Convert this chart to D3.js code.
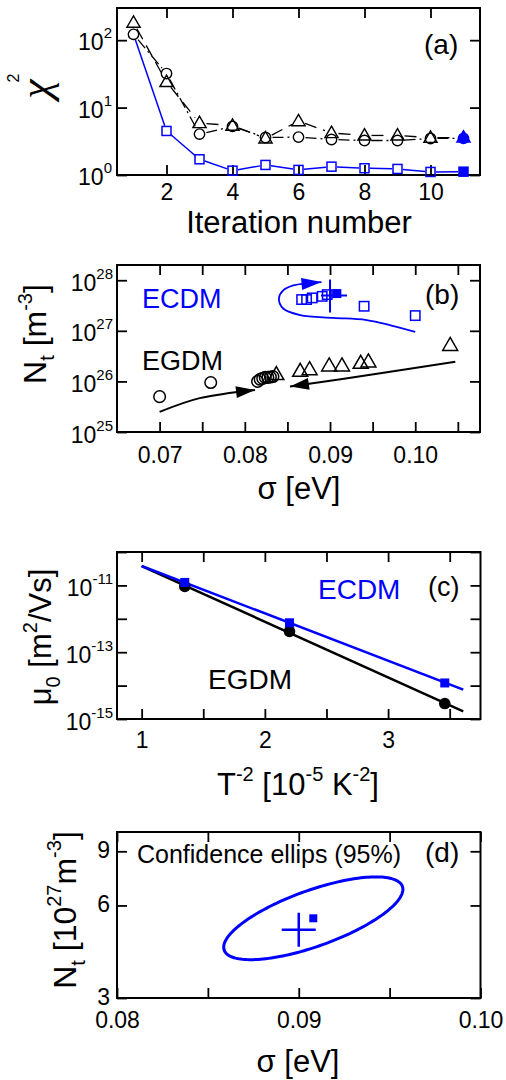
<!DOCTYPE html>
<html>
<head>
<meta charset="utf-8">
<script src="https://cdn.jsdelivr.net/npm/d3@7/dist/d3.min.js"></script>
<style>
  html, body { margin: 0; padding: 0; background: #fff; }
  svg { display: block; font-family: "Liberation Sans", Arial, sans-serif; }
</style>
</head>
<body>
<svg id="fig" width="506" height="1080"></svg>
<script>
// ---------- (a) chi^2 versus iteration ----------
const iterations   = [1, 2, 3, 4, 5, 6, 7, 8, 9, 10, 11];
const chi2ECDM     = [122, 4.5, 1.71, 1.16, 1.41, 1.19, 1.33, 1.26, 1.23, 1.11, 1.12];
const chi2EGDMlow  = [122, 32, 4.04, 5.26, 3.6, 3.65, 3.36, 3.25, 3.25, 3.48, 3.5];
const chi2EGDMhigh = [182, 24, 5.9, 5.4, 3.5, 6.3, 4.2, 3.86, 3.86, 3.57, 3.6];
const xTicksA = [2, 4, 6, 8, 10];
const yTicksA = [1, 10, 100];

// ---------- (b) fit trajectories in (sigma, Nt) ----------
const egdmLowSigma  = [0.0700, 0.0760, 0.0815, 0.0818, 0.0821, 0.0824, 0.0827, 0.0830, 0.0833];
const egdmLowNt     = [5.0e25, 9.5e25, 1.0e26, 1.1e26, 1.15e26, 1.2e26, 1.2e26, 1.22e26, 1.25e26];
const egdmHighSigma = [0.0837, 0.0865, 0.0876, 0.0899, 0.0914, 0.0936, 0.0945, 0.1041];
const egdmHighNt    = [1.38e26, 1.6e26, 1.72e26, 2.05e26, 2.05e26, 2.3e26, 2.45e26, 5.2e26];
const ecdmSigma     = [0.1000, 0.0940, 0.08667, 0.08725, 0.08791, 0.08908, 0.08967];
const ecdmNt        = [2.0e27, 3.06e27, 4.15e27, 4.15e27, 4.47e27, 4.8e27, 5.2e27];
const ecdmBest      = [0.0908, 5.45e27];
const trueParams    = [0.0900, 5.0e27];
const ecdmPathSigma = [0.1000, 0.0943, 0.0904, 0.0865, 0.0845, 0.0840, 0.0845, 0.0857, 0.0890];
const ecdmPathNt    = [9.5e26, 1.63e27, 1.8e27, 2.04e27, 2.76e27, 4.35e27, 6.3e27, 7.9e27, 9.2e27];
const egdmUpSigma   = [0.0700, 0.0747, 0.0812];
const egdmUpNt      = [2.5e25, 4.67e25, 6.8e25];
const egdmDownSigma = [0.1047, 0.0959, 0.0853];
const egdmDownNt    = [2.45e26, 1.45e26, 7.9e25];
const xTicksB = [0.07, 0.075, 0.08, 0.085, 0.09, 0.095, 0.10, 0.105];
const xLabelsB = [0.07, 0.08, 0.09, 0.10];
const yTicksB = [1e25, 1e26, 1e27, 1e28];

// ---------- (c) mu0 versus T^-2 ----------
const invT2    = [1.35, 2.2, 3.46];
const mu0ECDM  = [1.23e-11, 7.6e-13, 1.2e-14];
const mu0EGDM  = [9.3e-12, 4.2e-13, 2.9e-15];
const fitInvT2 = [1.0, 3.61];
const fitECDM  = [3.8e-11, 7.6e-15];
const fitEGDM  = [3.8e-11, 1.7e-15];
const xTicksC  = [1, 1.5, 2, 2.5, 3, 3.5];
const xLabelsC = [1, 2, 3];
const yTicksC  = [1e-15, 1e-14, 1e-13, 1e-12, 1e-11, 1e-10];
const yLabelsC = [1e-15, 1e-13, 1e-11];

// ---------- (d) 95% confidence ellipse ----------
const ellipseHalfSigma = 0.00493;   // half extent along sigma
const ellipseHalfLogNt = 0.1346;    // half extent along log10(Nt)
const ellipsePhase     = 0.796;     // correlation phase (rad)
const xTicksD  = [0.08, 0.085, 0.09, 0.095, 0.10];
const xLabelsD = [0.08, 0.09, 0.10];
const yTicksD  = [3e27, 6e27, 9e27];

const BLUE = "#0000ff";
const svg = d3.select("#fig");
const FONT = '"Liberation Sans", Arial, sans-serif';
const TICK_FS = 23, SUP_FS = 15;

// Frame with inward ticks on all four sides
function axes(x, y, o) {
  const [x0, x1] = x.range();
  const [y0, y1] = y.range();
  const T = 10;
  const tidy = sel => {
    sel.select(".domain").remove();
    sel.selectAll(".tick line").attr("stroke", "#000").attr("stroke-width", 1.8);
    sel.attr("font-family", FONT).attr("font-size", TICK_FS);
  };
  const bottom = svg.append("g").attr("transform", `translate(0,${y0})`)
    .call(d3.axisBottom(x).tickValues(o.xTicks).tickSizeInner(-T).tickSizeOuter(0)
      .tickFormat(d => o.xLabels.includes(d) ? o.xFmt(d) : ""))
    .call(tidy);
  bottom.selectAll("text").attr("dy", null).attr("y", o.xOff).attr("fill", "#000").attr("font-size", TICK_FS);
  svg.append("g").attr("transform", `translate(0,${y1})`)
    .call(d3.axisTop(x).tickValues(o.xTicks).tickSizeInner(-T).tickSizeOuter(0).tickFormat(""))
    .call(tidy);
  const left = svg.append("g").attr("transform", `translate(${x0},0)`)
    .call(d3.axisLeft(y).tickValues(o.yTicks).tickSizeInner(-T).tickSizeOuter(0).tickPadding(o.yPad)
      .tickFormat(""))
    .call(tidy);
  left.selectAll(".tick").each(function (d) {
    if (o.yLabels && !o.yLabels.includes(d)) return;
    const t = d3.select(this).select("text").attr("dy", null).attr("y", o.yOff)
      .attr("fill", "#000").attr("font-size", TICK_FS).text(null);
    if (o.yPow) {
      const e = Math.round(Math.log10(d));
      t.append("tspan").text("10");
      t.append("tspan").attr("font-size", SUP_FS).attr("dy", -12).text(String(e));
    } else {
      t.text(o.yFmt(d));
    }
  });
  svg.append("g").attr("transform", `translate(${x1},0)`)
    .call(d3.axisRight(y).tickValues(o.yTicks).tickSizeInner(-T).tickSizeOuter(0).tickFormat(""))
    .call(tidy);
  svg.append("rect").attr("x", x0).attr("y", y1).attr("width", x1 - x0).attr("height", y0 - y1)
    .attr("fill", "none").attr("stroke", "#000").attr("stroke-width", 2);
}

function label(x, y, txt, size, color, anchor) {
  return svg.append("text").attr("x", x).attr("y", y).attr("font-size", size)
    .attr("fill", color || "#000").attr("text-anchor", anchor || "start").text(txt);
}

// rotated axis title assembled from pieces: [text, fontSize, dy]
function vtitle(x, y, parts, anchor) {
  const t = svg.append("text").attr("transform", `translate(${x},${y}) rotate(-90)`)
    .attr("text-anchor", anchor || "middle").attr("fill", "#000");
  parts.forEach(([s, fs, dy]) => t.append("tspan").attr("font-size", fs).attr("dy", dy || 0).text(s));
  return t;
}
function htitle(x, y, parts) {
  const t = svg.append("text").attr("x", x).attr("y", y).attr("text-anchor", "middle").attr("fill", "#000");
  parts.forEach(([s, fs, dy]) => t.append("tspan").attr("font-size", fs).attr("dy", dy || 0).text(s));
  return t;
}

const triPath = (cx, cy, h) => `M${cx},${cy - h * 0.62}L${cx + h * 0.6},${cy + h * 0.42}L${cx - h * 0.6},${cy + h * 0.42}Z`;

// line segments that stop short of the markers
function gappedLine(pts, gap, color, width, dash) {
  for (let i = 0; i < pts.length - 1; i++) {
    const [ax, ay] = pts[i], [bx, by] = pts[i + 1];
    const L = Math.hypot(bx - ax, by - ay);
    if (L <= 2 * gap) continue;
    const ux = (bx - ax) / L, uy = (by - ay) / L;
    svg.append("line")
      .attr("x1", ax + ux * gap).attr("y1", ay + uy * gap)
      .attr("x2", bx - ux * gap).attr("y2", by - uy * gap)
      .attr("stroke", color).attr("stroke-width", width)
      .attr("stroke-dasharray", dash || null);
  }
}

function arrowCurve(pts, color, width, headLen, headHalf, curve) {
  const p = svg.append("path").attr("d", d3.line().curve(curve || d3.curveCatmullRom.alpha(0.5))(pts))
    .attr("fill", "none").attr("stroke", color).attr("stroke-width", width);
  const node = p.node(), L = node.getTotalLength();
  const tip = node.getPointAtLength(L), base = node.getPointAtLength(L - headLen);
  const ux = (tip.x - base.x) / headLen, uy = (tip.y - base.y) / headLen;
  const bx = tip.x - ux * headLen, by = tip.y - uy * headLen;
  svg.append("path")
    .attr("d", `M${tip.x},${tip.y}L${bx - uy * headHalf},${by + ux * headHalf}L${bx + uy * headHalf},${by - ux * headHalf}Z`)
    .attr("fill", color);
}

// ======================= (a) =======================
{
  const x = d3.scaleLinear().domain([0.5, 11.5]).range([117, 480]);
  const y = d3.scaleLog().domain([1, 300]).range([175, 8]);
  axes(x, y, { xTicks: xTicksA, xLabels: xTicksA, xFmt: d => d, xOff: 25,
               yTicks: yTicksA, yPow: true, yPad: 5, yOff: 9.5 });

  const pSq = iterations.map((it, i) => [x(it), y(chi2ECDM[i])]);
  const pCi = iterations.map((it, i) => [x(it), y(chi2EGDMlow[i])]);
  const pTr = iterations.map((it, i) => [x(it), y(chi2EGDMhigh[i])]);
  gappedLine(pTr, 7, "#000", 1.3, "12,7");
  gappedLine(pCi, 7, "#000", 1.3, "11,4,2,4");
  gappedLine(pSq, 5.5, BLUE, 1.5);

  const last = iterations.length - 1;
  pTr.forEach(([cx, cy], i) => svg.append("path").attr("d", triPath(cx, cy, 11))
    .attr("fill", i === last ? BLUE : "none").attr("stroke", i === last ? BLUE : "#000").attr("stroke-width", 1.4));
  pCi.forEach(([cx, cy], i) => svg.append("circle").attr("cx", cx).attr("cy", cy).attr("r", 5.2)
    .attr("fill", i === last ? BLUE : "none").attr("stroke", i === last ? BLUE : "#000").attr("stroke-width", 1.4));
  pSq.forEach(([cx, cy], i) => { if (i === 0) return;
    svg.append("rect").attr("x", cx - 4.5).attr("y", cy - 4.5).attr("width", 9).attr("height", 9)
      .attr("fill", i === last ? BLUE : "none").attr("stroke", BLUE).attr("stroke-width", 1.5); });

  label(424, 54, "(a)", 28);
  htitle(299, 233, [["Iteration number", 31]]);
  vtitle(50, 89, [["\u03C7", 44]]).attr("font-family", '"Liberation Serif", serif').attr("font-style", "italic");
  vtitle(19, 78, [["2", 16]]);
}

// ======================= (b) =======================
{
  const x = d3.scaleLinear().domain([0.065, 0.1076]).range([117, 480]);
  const y = d3.scaleLog().domain([1e25, 2e28]).range([432, 265]);
  axes(x, y, { xTicks: xTicksB, xLabels: xLabelsB, xFmt: d3.format(".2f"), xOff: 31,
               yTicks: yTicksB, yPow: true, yPad: 4, yOff: 10 });

  // EGDM arrows
  arrowCurve(egdmUpSigma.map((s, i) => [x(s), y(egdmUpNt[i])]), "#000", 2, 19, 6);
  arrowCurve(egdmDownSigma.map((s, i) => [x(s), y(egdmDownNt[i])]), "#000", 2, 19, 6);
  // ECDM trajectory
  arrowCurve(ecdmPathSigma.map((s, i) => [x(s), y(ecdmPathNt[i])]), BLUE, 1.8, 20, 6);

  egdmLowSigma.forEach((s, i) => svg.append("circle").attr("cx", x(s)).attr("cy", y(egdmLowNt[i])).attr("r", 5.8)
    .attr("fill", "none").attr("stroke", "#000").attr("stroke-width", 1.5));
  egdmHighSigma.forEach((s, i) => svg.append("path").attr("d", triPath(x(s), y(egdmHighNt[i]), 12.5))
    .attr("fill", "none").attr("stroke", "#000").attr("stroke-width", 1.5));
  ecdmSigma.forEach((s, i) => svg.append("rect").attr("x", x(s) - 4.7).attr("y", y(ecdmNt[i]) - 4.7)
    .attr("width", 9.4).attr("height", 9.4).attr("fill", "none").attr("stroke", BLUE).attr("stroke-width", 1.5));
  svg.append("rect").attr("x", x(ecdmBest[0]) - 4.5).attr("y", y(ecdmBest[1]) - 4.5)
    .attr("width", 9).attr("height", 9).attr("fill", BLUE);
  const cx = x(trueParams[0]), cy = y(trueParams[1]);
  svg.append("path").attr("d", `M${cx},${cy - 16}V${cy + 17}M${cx - 9},${cy}H${cx + 17}`)
    .attr("stroke", BLUE).attr("stroke-width", 2).attr("fill", "none");

  label(142, 308, "ECDM", 27, BLUE);
  label(142, 370, "EGDM", 27);
  label(425, 304, "(b)", 28);
  htitle(299, 499, [["\u03C3 [eV]", 31]]);
  vtitle(46, 334, [["N", 32], ["t", 20, 8], [" [m", 32, -8], ["-3", 20, -14], ["]", 32, 14]]);
}

// ======================= (c) =======================
{
  const x = d3.scaleLinear().domain([0.8, 3.75]).range([117, 480.5]);
  const y = d3.scaleLog().domain([1e-15, 1e-10]).range([719, 552]);
  axes(x, y, { xTicks: xTicksC, xLabels: xLabelsC, xFmt: d => d, xOff: 29,
               yTicks: yTicksC, yLabels: yLabelsC, yPow: true, yPad: 4, yOff: 10 });

  const line = d3.line();
  svg.append("path").attr("d", line(fitInvT2.map((t, i) => [x(t), y(fitEGDM[i])])))
    .attr("stroke", "#000").attr("stroke-width", 2.5).attr("fill", "none");
  svg.append("path").attr("d", line(fitInvT2.map((t, i) => [x(t), y(fitECDM[i])])))
    .attr("stroke", BLUE).attr("stroke-width", 2.5).attr("fill", "none");
  invT2.forEach((t, i) => {
    svg.append("circle").attr("cx", x(t)).attr("cy", y(mu0EGDM[i])).attr("r", 5.8).attr("fill", "#000");
    svg.append("rect").attr("x", x(t) - 4.5).attr("y", y(mu0ECDM[i]) - 4.5).attr("width", 9).attr("height", 9).attr("fill", BLUE);
  });

  label(318, 599, "ECDM", 28, BLUE);
  label(208, 689, "EGDM", 28);
  label(428, 596, "(c)", 27);
  htitle(298, 795, [["T", 31], ["-2", 20, -14], [" [10", 31, 14], ["-5", 20, -14], [" K", 31, 14], ["-2", 20, -14], ["]", 31, 14]]);
  vtitle(51, 637, [["\u03BC", 31], ["0", 20, 9], [" [m", 31, -9], ["2", 20, -14], ["/Vs]", 31, 14]]);
}

// ======================= (d) =======================
{
  const x = d3.scaleLinear().domain([0.08, 0.10]).range([117, 480.5]);
  const y = d3.scaleLog().domain([3e27, 1.04e28]).range([998, 832]);
  axes(x, y, { xTicks: xTicksD, xLabels: xLabelsD, xFmt: d3.format(".2f"), xOff: 30,
               yTicks: yTicksD, yPow: false, yFmt: d => Math.round(d / 1e27), yPad: 7, yOff: 6.5 });

  const ts = d3.range(0, 2 * Math.PI, Math.PI / 90);
  const ell = ts.map(t => [
    x(ecdmBest[0] + ellipseHalfSigma * Math.cos(t)),
    y(ecdmBest[1] * Math.pow(10, ellipseHalfLogNt * Math.cos(t - ellipsePhase)))
  ]);
  svg.append("path").attr("d", d3.line().curve(d3.curveLinearClosed)(ell))
    .attr("fill", "none").attr("stroke", BLUE).attr("stroke-width", 3);
  svg.append("rect").attr("x", x(ecdmBest[0]) - 4).attr("y", y(ecdmBest[1]) - 4)
    .attr("width", 8).attr("height", 8).attr("fill", BLUE);
  const cx = x(trueParams[0]), cy = y(trueParams[1]);
  svg.append("path").attr("d", `M${cx},${cy - 17}V${cy + 17}M${cx - 17},${cy}H${cx + 17}`)
    .attr("stroke", BLUE).attr("stroke-width", 2.5).attr("fill", "none");

  label(137, 863, "Confidence ellips (95%)", 25);
  label(425, 862, "(d)", 28);
  htitle(298, 1072, [["\u03C3 [eV]", 31]]);
  vtitle(76, 910, [["N", 32], ["t", 20, 9], [" [10", 32, -9], ["27", 20, -15], ["m", 32, 15], ["-3", 20, -15], ["]", 32, 15]]);
}
</script>
</body>
</html>
